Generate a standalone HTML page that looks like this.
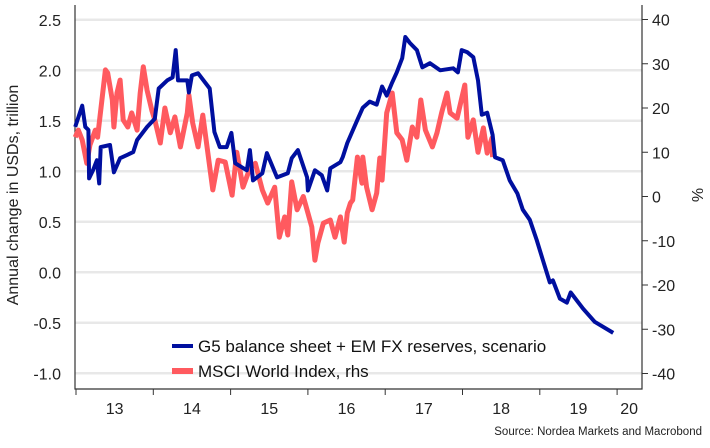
<!DOCTYPE html>
<html><head><meta charset="utf-8"><style>
body{margin:0;background:#fff;}
svg{display:block;font-family:"Liberation Sans",sans-serif;}
</style></head><body>
<svg id="chart" width="710" height="448" xmlns="http://www.w3.org/2000/svg">
<g id="grid"></g>
<g id="axes"></g>
<g id="series"></g>
<text x="18" y="195" transform="rotate(-90 18 195)" text-anchor="middle" font-size="16" fill="#222">Annual change in USDs, trillion</text>
<text x="692" y="195" transform="rotate(90 692 195)" text-anchor="middle" font-size="16" fill="#222">%</text>
<g>
<line x1="172" y1="346" x2="193" y2="346" stroke="#000f9f" stroke-width="4"/>
<text x="198" y="352" font-size="17" fill="#111">G5 balance sheet + EM FX reserves, scenario</text>
<line x1="172" y1="371" x2="193" y2="371" stroke="#ff5a5f" stroke-width="6"/>
<text x="198" y="377" font-size="17" fill="#111">MSCI World Index, rhs</text>
</g>
<text x="702" y="435" text-anchor="end" font-size="11.5" fill="#222">Source: Nordea Markets and Macrobond</text>
</svg>
<script>
const leftTicks=[2.5,2.0,1.5,1.0,0.5,0.0,-0.5,-1.0];
const rightTicks=[40,30,20,10,0,-10,-20,-30,-40];
const yearLabels=["13","14","15","16","17","18","19","20"];
const yearTicks=[2013,2014,2015,2016,2017,2018,2019,2020];
const blueDates=[2012.99,2013.08,2013.12,2013.16,2013.17,2013.22,2013.27,2013.30,2013.32,2013.44,2013.49,2013.57,2013.74,2013.79,2013.92,2014.02,2014.07,2014.18,2014.25,2014.29,2014.32,2014.44,2014.46,2014.50,2014.58,2014.73,2014.79,2014.86,2014.95,2015.01,2015.06,2015.21,2015.25,2015.29,2015.41,2015.47,2015.60,2015.74,2015.79,2015.87,2015.99,2016.00,2016.09,2016.18,2016.25,2016.29,2016.42,2016.45,2016.51,2016.64,2016.71,2016.80,2016.89,2016.96,2017.02,2017.09,2017.15,2017.22,2017.26,2017.32,2017.41,2017.48,2017.58,2017.71,2017.88,2017.94,2017.99,2018.06,2018.14,2018.20,2018.25,2018.32,2018.39,2018.42,2018.52,2018.61,2018.71,2018.78,2018.87,2018.96,2019.04,2019.13,2019.17,2019.26,2019.35,2019.40,2019.56,2019.71,2019.95];
const blueValues=[1.44,1.65,1.44,1.41,0.93,1.01,1.11,0.88,1.24,1.26,0.99,1.13,1.19,1.31,1.44,1.52,1.82,1.90,1.93,2.20,1.90,1.90,1.78,1.95,1.97,1.82,1.39,1.24,1.24,1.38,1.08,1.01,1.21,0.91,0.98,1.18,0.94,0.98,1.13,1.21,0.94,0.81,1.01,0.96,0.81,1.03,1.09,1.14,1.28,1.51,1.63,1.69,1.66,1.84,1.75,1.88,1.98,2.12,2.33,2.27,2.20,2.03,2.07,2.00,2.02,1.98,2.20,2.18,2.13,1.90,1.56,1.58,1.36,1.14,1.11,0.91,0.78,0.62,0.52,0.32,0.12,-0.10,-0.08,-0.26,-0.30,-0.20,-0.36,-0.49,-0.60];
const redDates=[2012.99,2013.03,2013.08,2013.14,2013.18,2013.25,2013.28,2013.38,2013.41,2013.47,2013.49,2013.53,2013.57,2013.61,2013.67,2013.72,2013.79,2013.83,2013.87,2013.92,2013.98,2014.02,2014.09,2014.15,2014.22,2014.28,2014.35,2014.44,2014.46,2014.51,2014.58,2014.64,2014.77,2014.84,2014.93,2015.02,2015.08,2015.16,2015.25,2015.32,2015.41,2015.48,2015.57,2015.63,2015.70,2015.74,2015.79,2015.86,2015.94,2016.00,2016.05,2016.09,2016.13,2016.20,2016.29,2016.35,2016.42,2016.47,2016.51,2016.55,2016.58,2016.64,2016.70,2016.71,2016.76,2016.83,2016.89,2016.93,2016.96,2017.02,2017.09,2017.15,2017.22,2017.28,2017.35,2017.41,2017.46,2017.52,2017.61,2017.67,2017.73,2017.80,2017.84,2017.93,2018.03,2018.07,2018.14,2018.20,2018.27,2018.32,2018.38,2018.39];
const redValues=[13.4,15,12.8,7.5,11.6,15,13.4,28.6,27.9,21.8,15.7,23.4,26.3,17.3,15.7,18.9,15,23.4,29.3,24,19.5,17.3,12.1,20,14.4,18,11.2,18.9,22.9,16.6,11.2,18.4,1.5,8.2,7.8,0.3,10,2.1,6.4,7.5,1.5,-1.5,2.1,-9.2,-4.6,-8.7,3.3,-3,0,-3.7,-6.9,-14.4,-10.5,-6,-5.3,-9.2,-4.6,-10.3,-3.7,-1.5,-0.8,8.9,3,8.9,2.1,-3,0.8,8.7,3.7,18.9,23.4,14.4,12.8,8.2,15.7,13.4,21.8,15,11.2,14.4,18.9,23.4,18.9,17.7,25.2,13.4,17.3,10,15.5,9.8,13.2,8.9];

const NS="http://www.w3.org/2000/svg";
const X0=76, PX_YEAR=77.3, L0=272.3, L_UNIT=101, R0=196.5, R_UNIT=4.425;
const PL=75, PR=642, PT=5, PB=389;
function xScale(t){return X0+(t-2013)*PX_YEAR;}
function yLeft(v){return L0-v*L_UNIT;}
function yRight(v){return R0-v*R_UNIT;}
function mk(tag,attrs,parent,txt){const e=document.createElementNS(NS,tag);for(const k in attrs)e.setAttribute(k,attrs[k]);if(txt!==undefined)e.textContent=txt;parent.appendChild(e);return e;}
const grid=document.getElementById('grid'),axes=document.getElementById('axes'),series=document.getElementById('series');
leftTicks.forEach(v=>{
  const y=yLeft(v);
  const g=mk('line',{x1:PL,x2:PR,y1:y,y2:y,stroke:'#e8e8e8','stroke-width':2.5},grid);
  
  
  const t=mk('text',{x:61,y:y+6,'text-anchor':'end','font-size':16,fill:'#222'},axes,v.toFixed(1));
  
  
});
rightTicks.forEach(v=>{
  const y=yRight(v);
  const t=mk('text',{x:652,y:y+6,'font-size':16,fill:'#222'},axes,String(v));
  
  
  const tk=mk('line',{x1:PR,x2:PR+6,y1:y,y2:y,stroke:'#333','stroke-width':1},axes);
  
  
});
yearTicks.forEach((yr,i)=>{
  const x=xScale(yr);
  const tk=mk('line',{x1:x,x2:x,y1:PB,y2:PB+6,stroke:'#333','stroke-width':1},axes);
  
  
  const lx=i<yearTicks.length-1?x+PX_YEAR/2:x+12;
  const t=mk('text',{x:lx,y:414,'text-anchor':'middle','font-size':16,fill:'#222'},axes,yearLabels[i]);
  
  
});
const frame=mk('path',{d:`M${PL},${PT}V${PB}H${PR}V${PT}`,fill:'none',stroke:'#333','stroke-width':1.2},axes);


const red=mk('polyline',{points:redDates.map((d,i)=>xScale(d).toFixed(1)+','+yRight(redValues[i]).toFixed(1)).join(' '),fill:'none',stroke:'#ff5a5f','stroke-width':5,'stroke-linejoin':'round'},series);


const blue=mk('polyline',{points:blueDates.map((d,i)=>xScale(d).toFixed(1)+','+yLeft(blueValues[i]).toFixed(1)).join(' '),fill:'none',stroke:'#000f9f','stroke-width':4,'stroke-linejoin':'round'},series);


</script>
</body></html>
